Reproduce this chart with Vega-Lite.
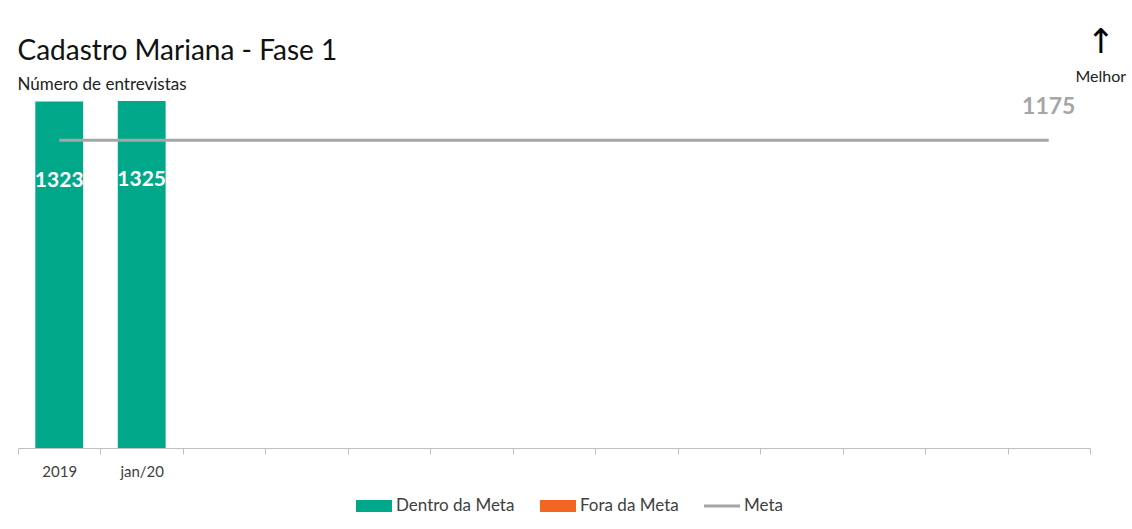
{
  "$schema": "https://vega.github.io/schema/vega-lite/v6.json",
  "width": 1072,
  "height": 347,
  "autosize": {"type": "none"},
  "padding": {"left": 18, "top": 101, "right": 42, "bottom": 81},
  "background": "white",
  "config": {"view": {"stroke": null}, "font": "Lato"},
  "title": {
    "text": "Cadastro Mariana - Fase 1",
    "subtitle": "Número de entrevistas",
    "anchor": "start",
    "font": "Lato",
    "fontSize": 28,
    "fontWeight": "normal",
    "color": "#111111",
    "subtitleFont": "Lato",
    "subtitleFontSize": 17,
    "subtitleColor": "#222222",
    "subtitlePadding": 11,
    "offset": -67
  },
  "data": {
    "values": [
      {"cat": "2019", "value": 1323, "meta": 1175, "status": "Dentro da Meta"},
      {"cat": "jan/20", "value": 1325, "meta": 1175, "status": "Dentro da Meta"},
      {"cat": "_3", "value": null, "meta": 1175, "status": "Dentro da Meta"},
      {"cat": "_4", "value": null, "meta": 1175, "status": "Dentro da Meta"},
      {"cat": "_5", "value": null, "meta": 1175, "status": "Dentro da Meta"},
      {"cat": "_6", "value": null, "meta": 1175, "status": "Dentro da Meta"},
      {"cat": "_7", "value": null, "meta": 1175, "status": "Dentro da Meta"},
      {"cat": "_8", "value": null, "meta": 1175, "status": "Dentro da Meta"},
      {"cat": "_9", "value": null, "meta": 1175, "status": "Dentro da Meta"},
      {"cat": "_10", "value": null, "meta": 1175, "status": "Dentro da Meta"},
      {"cat": "_11", "value": null, "meta": 1175, "status": "Dentro da Meta"},
      {"cat": "_12", "value": null, "meta": 1175, "status": "Dentro da Meta"},
      {"cat": "_13", "value": null, "meta": 1175, "status": "Dentro da Meta"}
    ]
  },
  "encoding": {
    "x": {
      "field": "cat",
      "type": "nominal",
      "sort": null,
      "scale": {
        "domain": ["2019", "jan/20", "_3", "_4", "_5", "_6", "_7", "_8", "_9", "_10", "_11", "_12", "_13"],
        "paddingInner": 0,
        "paddingOuter": 0
      },
      "axis": {
        "title": null,
        "labelAngle": 0,
        "labelExpr": "slice(datum.label,0,1)=='_' ? '' : datum.label",
        "domainColor": "#bfbfbf",
        "tickColor": "#bfbfbf",
        "tickSize": 6,
        "tickBand": "extent",
        "labelFont": "Lato",
        "labelFontSize": 15,
        "labelColor": "#404040",
        "labelPadding": 10
      }
    }
  },
  "layer": [
    {
      "mark": {"type": "bar", "width": {"band": 0.58}},
      "encoding": {
        "y": {
          "field": "value",
          "type": "quantitative",
          "scale": {"domain": [0, 1325], "nice": false},
          "axis": null
        },
        "color": {
          "field": "status",
          "type": "nominal",
          "scale": {
            "domain": ["Dentro da Meta", "Fora da Meta", "Meta"],
            "range": ["#00a88a", "#f26522", "#a6a6a6"]
          },
          "legend": {
            "title": null,
            "orient": "none",
            "direction": "horizontal",
            "legendX": 338,
            "legendY": 387,
            "symbolType": "M-1,-0.33H1V0.33H-1Z",
            "symbolSize": 1296,
            "symbolStrokeWidth": 0,
            "labelFont": "Lato",
            "labelFontSize": 17,
            "labelColor": "#404040",
            "labelOffset": 4,
            "columnPadding": 25,
            "encode": {
              "symbols": {
                "update": {
                  "shape": {"signal": "datum.label === 'Meta' ? 'M-1,-0.08H1V0.08H-1Z' : 'M-1,-0.33H1V0.33H-1Z'"}
                }
              }
            }
          }
        }
      }
    },
    {
      "mark": {"type": "line", "color": "#a6a6a6", "strokeWidth": 3},
      "encoding": {
        "y": {"field": "meta", "type": "quantitative"}
      }
    },
    {
      "mark": {"type": "text", "color": "white", "fontWeight": "bold", "fontSize": 21, "font": "Lato", "baseline": "middle", "dy": 79},
      "encoding": {
        "y": {"field": "value", "type": "quantitative"},
        "text": {"field": "value", "type": "quantitative"}
      }
    },
    {
      "transform": [{"filter": "datum.cat == '_13'"}],
      "mark": {"type": "text", "color": "#a6a6a6", "fontWeight": "bold", "fontSize": 23, "font": "Lato", "baseline": "middle", "dy": -33},
      "encoding": {
        "y": {"field": "meta", "type": "quantitative"},
        "text": {"field": "meta", "type": "quantitative"}
      }
    },
    {
      "transform": [{"filter": "datum.cat == '_13'"}],
      "mark": {"type": "text", "color": "#000000", "fontSize": 34, "font": "DejaVu Sans", "baseline": "middle", "dx": 52, "dy": -58},
      "encoding": {
        "y": {"datum": 1325, "type": "quantitative"},
        "text": {"value": "↑"}
      }
    },
    {
      "transform": [{"filter": "datum.cat == '_13'"}],
      "mark": {"type": "text", "color": "#222222", "fontSize": 16, "font": "Lato", "baseline": "middle", "dx": 52, "dy": -24},
      "encoding": {
        "y": {"datum": 1325, "type": "quantitative"},
        "text": {"value": "Melhor"}
      }
    }
  ]
}
